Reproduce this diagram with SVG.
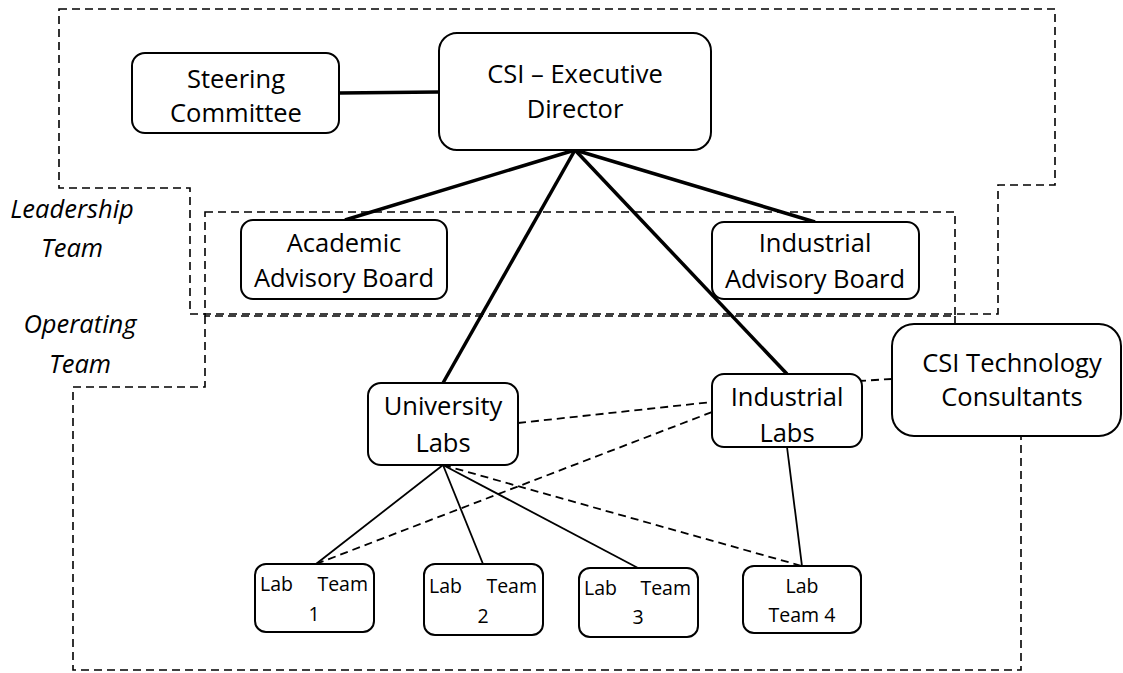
<svg xmlns="http://www.w3.org/2000/svg" width="1123" height="673" viewBox="0 0 1123 673">
<style>
.bg{fill:#fff}
.box{fill:#fff;stroke:#000;stroke-width:2}
.zone{fill:none;stroke:#000;stroke-width:1.6;stroke-dasharray:8 5}
.t{font-family:"Open Sans","Liberation Sans",sans-serif;font-size:25.5px;fill:#000;text-anchor:middle}
.s{font-family:"Open Sans","Liberation Sans",sans-serif;font-size:19.5px;fill:#000}
.it{font-family:"Open Sans","Liberation Sans",sans-serif;font-size:25.5px;font-style:italic;fill:#000;text-anchor:middle}
.thick{stroke:#000;stroke-width:3.5;fill:none}
.thin{stroke:#000;stroke-width:1.8;fill:none}
.dash{stroke:#000;stroke-width:1.8;fill:none;stroke-dasharray:8 5}
</style>
<rect class="bg" x="0" y="0" width="1123" height="673"/>
<g id="zones">
<path class="zone" d="M59,9 H1055 V185 H998 V314 H190 V188 H59 Z"/>
<rect class="zone" x="205" y="212" width="750" height="104"/>
<path class="zone" d="M205,316 V387 H73 V670 H1021 V380 H955 V316"/>
</g>
<g id="labels">
<text class="it" x="72" y="218">Leadership</text>
<text class="it" x="72" y="257">Team</text>
<text class="it" x="80" y="333">Operating</text>
<text class="it" x="80" y="373">Team</text>
</g>
<g id="connectors">
<line class="thick" x1="339" y1="93" x2="439" y2="92"/>
<line class="thick" x1="575" y1="150" x2="345" y2="220"/>
<line class="thick" x1="575" y1="150" x2="815" y2="222"/>
<line class="thick" x1="575" y1="150" x2="443" y2="383"/>
<line class="thick" x1="575" y1="150" x2="787" y2="374"/>
<line class="thin" x1="443" y1="465" x2="316" y2="564"/>
<line class="thin" x1="443" y1="465" x2="483" y2="564"/>
<line class="thin" x1="443" y1="465" x2="638" y2="568"/>
<line class="thin" x1="787" y1="447" x2="802" y2="566"/>
<line class="dash" x1="518" y1="423" x2="712" y2="402"/>
<line class="dash" x1="316" y1="564" x2="712" y2="412"/>
<line class="dash" x1="443" y1="465" x2="802" y2="566"/>
<line class="dash" x1="858" y1="381" x2="892" y2="379"/>
</g>
<g id="steering">
<rect class="box" x="132" y="53" width="207" height="80" rx="13"/>
<text class="t" x="236" y="88">Steering</text>
<text class="t" x="236" y="122">Committee</text>
</g>
<g id="director">
<rect class="box" x="439" y="33" width="272" height="117" rx="18"/>
<text class="t" x="575" y="83">CSI – Executive</text>
<text class="t" x="575" y="118">Director</text>
</g>
<g id="academic">
<rect class="box" x="241" y="220" width="206" height="79" rx="12"/>
<text class="t" x="344" y="252">Academic</text>
<text class="t" x="344" y="287">Advisory Board</text>
</g>
<g id="industrial-board">
<rect class="box" x="712" y="222" width="207" height="77" rx="12"/>
<text class="t" x="815" y="252">Industrial</text>
<text class="t" x="815" y="288">Advisory Board</text>
</g>
<g id="university-labs">
<rect class="box" x="368" y="383" width="150" height="82" rx="13"/>
<text class="t" x="443" y="415">University</text>
<text class="t" x="443" y="452">Labs</text>
</g>
<g id="industrial-labs">
<rect class="box" x="712" y="374" width="150" height="73" rx="12"/>
<text class="t" x="787" y="406">Industrial</text>
<text class="t" x="787" y="442">Labs</text>
</g>
<g id="consultants">
<rect class="box" x="892" y="324" width="229" height="112" rx="22"/>
<text class="t" x="1012" y="372">CSI Technology</text>
<text class="t" x="1012" y="406">Consultants</text>
</g>
<g id="lab-team-1">
<rect class="box" x="255" y="564" width="119" height="68" rx="11"/>
<text class="s" x="260" y="591">Lab</text>
<text class="s" x="368" y="591" text-anchor="end">Team</text>
<text class="s" x="314" y="621" text-anchor="middle">1</text>
</g>
<g id="lab-team-2">
<rect class="box" x="424" y="564" width="119" height="71" rx="11"/>
<text class="s" x="429" y="593">Lab</text>
<text class="s" x="537" y="593" text-anchor="end">Team</text>
<text class="s" x="483" y="623" text-anchor="middle">2</text>
</g>
<g id="lab-team-3">
<rect class="box" x="579" y="568" width="119" height="69" rx="11"/>
<text class="s" x="584" y="595">Lab</text>
<text class="s" x="691" y="595" text-anchor="end">Team</text>
<text class="s" x="638" y="624" text-anchor="middle">3</text>
</g>
<g id="lab-team-4">
<rect class="box" x="743" y="566" width="118" height="67" rx="11"/>
<text class="s" x="802" y="593" text-anchor="middle">Lab</text>
<text class="s" x="802" y="622" text-anchor="middle">Team 4</text>
</g>
</svg>
